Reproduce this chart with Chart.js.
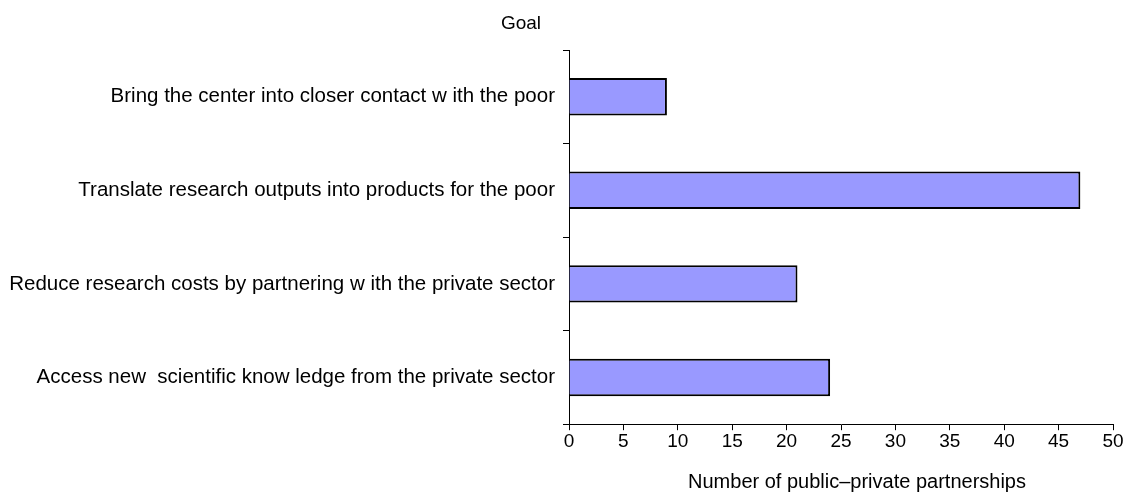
<!DOCTYPE html>
<html>
<head>
<meta charset="utf-8">
<script src="https://cdn.jsdelivr.net/npm/chart.js@4/dist/chart.umd.min.js"></script>
<style>
  html, body { margin: 0; padding: 0; background: #fff; }
  #wrap { width: 1126px; height: 493px; }
</style>
</head>
<body>
<div id="wrap"><canvas id="chart"></canvas></div>
<script>
const goals = [
    'Bring the center into closer contact w ith the poor',
    'Translate research outputs into products for the poor',
    'Reduce research costs by partnering w ith the private sector',
    'Access new  scientific know ledge from the private sector'
];
const partnerships = [9, 47, 21, 24];
const xTicks = [0, 5, 10, 15, 20, 25, 30, 35, 40, 45, 50];

const fontFamily = '"Liberation Sans", Arial, sans-serif';

// "Goal" above the category axis, axis title under the value axis
const axisTexts = {
    id: 'axisTexts',
    afterDraw(chart) {
        const { ctx, chartArea } = chart;
        ctx.save();
        ctx.fillStyle = '#000';
        ctx.textAlign = 'center';
        ctx.textBaseline = 'middle';
        ctx.font = '19px ' + fontFamily;
        ctx.fillText('Goal', chartArea.left - 48, 24);
        ctx.font = '20px ' + fontFamily;
        ctx.fillText('Number of public\u2013private partnerships',
            (chartArea.left + chartArea.right) / 2 + 16, 482);
        ctx.restore();
    }
};

new Chart(document.getElementById('chart'), {
    type: 'bar',
    data: {
        labels: goals,
        datasets: [{
            data: partnerships,
            backgroundColor: '#9999ff',
            borderColor: '#000',
            borderWidth: 2,
            categoryPercentage: 1,
            barPercentage: 0.4
        }]
    },
    options: {
        indexAxis: 'y',
        responsive: true,
        maintainAspectRatio: false,
        animation: false,
        layout: { padding: { top: 50, right: 13, left: 0, bottom: 40 } },
        plugins: {
            legend: { display: false },
            tooltip: { enabled: false }
        },
        scales: {
            x: {
                min: 0,
                max: 50,
                afterBuildTicks: (axis) => { axis.ticks = xTicks.map(v => ({ value: v })); },
                grid: { drawOnChartArea: false, color: '#000', tickColor: '#000', tickLength: 6 },
                border: { color: '#000', width: 1 },
                ticks: { color: '#000', font: { family: fontFamily, size: 19 }, padding: 0, maxRotation: 0 }
            },
            y: {
                afterFit: (scale) => { scale.width = 569; },
                grid: { drawOnChartArea: false, offset: true, color: '#000', tickColor: '#000', tickLength: 6 },
                border: { color: '#000', width: 1 },
                ticks: { color: '#000', font: { family: fontFamily, size: 20.5 }, padding: 8, autoSkip: false }
            }
        }
    },
    plugins: [axisTexts]
});
</script>
</body>
</html>
